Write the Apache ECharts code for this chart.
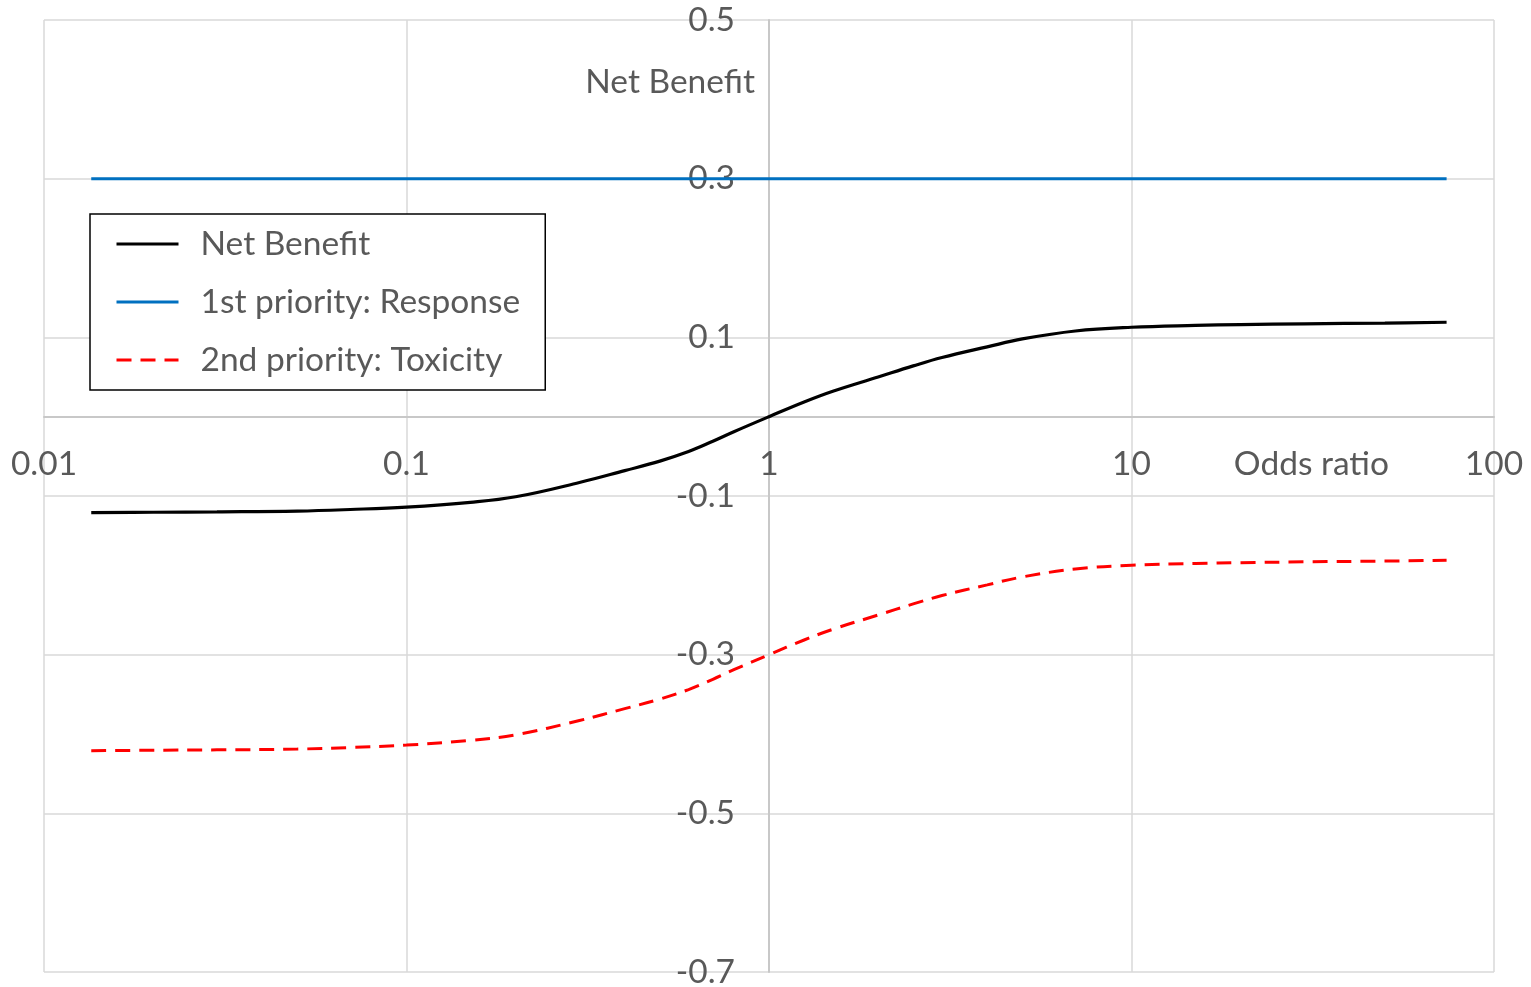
<!DOCTYPE html>
<html>
<head>
<meta charset="utf-8">
<script src="https://cdn.jsdelivr.net/npm/echarts@6/dist/echarts.min.js"></script>
<style>
  html, body { margin: 0; padding: 0; background: #ffffff; }
  #chart { width: 1531px; height: 987px; }
</style>
</head>
<body>
<div id="chart"></div>
<script>
// Odds ratios at which the curves are sampled (log axis)
const oddsRatio = [0.0135, 0.02, 0.03, 0.05, 0.07, 0.1, 0.15, 0.2, 0.3, 0.4, 0.5, 0.6, 0.7, 0.8,
                   1, 1.25, 1.5, 2, 2.5, 3, 4, 5, 7, 10, 15, 20, 30, 50, 74];

// Net benefit for each odds ratio
const netBenefit = [-0.121, -0.1205, -0.120, -0.119, -0.117, -0.114, -0.108, -0.101, -0.083, -0.068,
                    -0.056, -0.044, -0.031, -0.019, 0.000, 0.0185, 0.032, 0.050, 0.064, 0.0745,
                    0.088, 0.098, 0.108, 0.1127, 0.115, 0.116, 0.117, 0.118, 0.119];

// 1st priority: Response (constant)
const response = [0.3, 0.3, 0.3, 0.3, 0.3, 0.3, 0.3, 0.3, 0.3, 0.3, 0.3, 0.3, 0.3, 0.3,
                  0.3, 0.3, 0.3, 0.3, 0.3, 0.3, 0.3, 0.3, 0.3, 0.3, 0.3, 0.3, 0.3, 0.3, 0.3];

// 2nd priority: Toxicity
const toxicity = [-0.421, -0.4205, -0.420, -0.419, -0.417, -0.414, -0.408, -0.401, -0.383, -0.368,
                  -0.356, -0.344, -0.331, -0.319, -0.300, -0.2815, -0.268, -0.250, -0.236, -0.2255,
                  -0.212, -0.202, -0.192, -0.1873, -0.185, -0.184, -0.183, -0.182, -0.181];

const seriesNames = ['Net Benefit', '1st priority: Response', '2nd priority: Toxicity'];
const axisNames = { x: 'Odds ratio', y: 'Net Benefit' };

// Axis extents / tick step
const xRange = [0.01, 100];
const yRange = [-0.7, 0.5];
const yStep = 0.2;

const FONT = 'Lato, "Open Sans", sans-serif';
const TEXT = '#595959';
const FS = 33.5;

const pairs = (ys) => oddsRatio.map((x, i) => [x, ys[i]]);

const chart = echarts.init(document.getElementById('chart'), null, { renderer: 'canvas' });

const option = {
  animation: false,
  backgroundColor: '#ffffff',
  textStyle: { fontFamily: FONT },
  grid: { left: 44, right: 37, top: 20, bottom: 15, containLabel: false, outerBoundsMode: 'none' },
  legend: {
    data: seriesNames,
    orient: 'vertical',
    left: 90,
    top: 214,
    padding: [13, 25, 13, 25],
    itemWidth: 62,
    itemHeight: 20,
    itemGap: 24,
    backgroundColor: '#ffffff',
    borderColor: '#000000',
    borderWidth: 1.5,
    selectedMode: false,
    itemStyle: { opacity: 0, borderWidth: 0 },
    lineStyle: { width: 3 },
    textStyle: { color: TEXT, fontSize: FS, fontFamily: FONT, lineHeight: 32, padding: [0, 0, 0, 17] }
  },
  xAxis: {
    type: 'log',
    logBase: 10,
    min: xRange[0],
    max: xRange[1],
    position: 'bottom',
    offset: 0,
    name: axisNames.x,
    nameLocation: 'end',
    nameGap: -105,
    nameTextStyle: { color: TEXT, fontSize: FS, fontFamily: FONT, align: 'right', verticalAlign: 'top',
                     lineHeight: 32, padding: [32, 0, 0, 0] },
    axisLine: { show: true, onZero: false, lineStyle: { color: '#c8c8c8', width: 2 } },
    axisTick: { show: false },
    axisLabel: {
      show: true, color: TEXT, fontSize: FS, fontFamily: FONT, margin: 32, lineHeight: 32,
      showMinLabel: true, showMaxLabel: true
    },
    splitLine: { show: true, lineStyle: { color: '#d9d9d9', width: 1.5 } }
  },
  yAxis: {
    type: 'value',
    min: yRange[0],
    max: yRange[1],
    interval: yStep,
    position: 'left',
    offset: 0,
    name: axisNames.y,
    nameLocation: 'end',
    nameGap: -62,
    nameTextStyle: { color: TEXT, fontSize: FS, fontFamily: FONT, align: 'right', verticalAlign: 'middle',
                     padding: [0, 14, 0, 0] },
    axisLine: { show: true, onZero: false, lineStyle: { color: '#c8c8c8', width: 2 } },
    axisTick: { show: false },
    axisLabel: {
      color: TEXT, fontSize: FS, fontFamily: FONT, margin: 34,
      formatter: (v) => v.toFixed(1)
    },
    splitLine: { show: true, lineStyle: { color: '#d9d9d9', width: 1.5 } }
  },
  series: [
    {
      name: seriesNames[0], type: 'line', data: pairs(netBenefit), symbol: 'none', smooth: 0.4,
      lineStyle: { color: '#000000', width: 3.2 }, itemStyle: { color: '#000000' }, z: 4
    },
    {
      name: seriesNames[1], type: 'line', data: pairs(response), symbol: 'none',
      lineStyle: { color: '#0070C0', width: 3 }, itemStyle: { color: '#0070C0' }, z: 3
    },
    {
      name: seriesNames[2], type: 'line', data: pairs(toxicity), symbol: 'none', smooth: 0.4,
      lineStyle: { color: '#FF0000', width: 3, type: [15, 9] }, itemStyle: { color: '#FF0000' }, z: 3
    }
  ]
};

chart.setOption(option);

// Cross the axes at odds ratio = 1 and net benefit = 0
const xAtOne = chart.convertToPixel({ xAxisIndex: 0 }, 1);
const yAtZero = chart.convertToPixel({ yAxisIndex: 0 }, 0);
const yAtMin = chart.convertToPixel({ yAxisIndex: 0 }, yRange[0]);
chart.setOption({
  xAxis: { offset: -(yAtMin - yAtZero) },
  yAxis: { offset: -(xAtOne - option.grid.left) }
});
</script>
</body>
</html>
